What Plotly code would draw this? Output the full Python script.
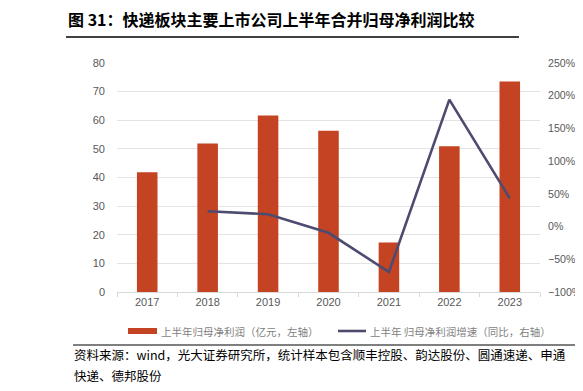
import plotly.graph_objects as go

years = ["2017", "2018", "2019", "2020", "2021", "2022", "2023"]
profit = [41.8, 51.9, 61.7, 56.3, 17.3, 50.9, 73.5]          # 亿元
growth_years = ["2018", "2019", "2020", "2021", "2022", "2023"]
growth = [23.5, 18.8, -9.5, -69.5, 194, 43]                   # %

bar_name = "上半年归母净利润（亿元，左轴）"
line_name = "上半年 归母净利润增速（同比，右轴）"
title_text = "<b>图 31：快递板块主要上市公司上半年合并归母净利润比较</b>"
source_line1 = "资料来源：wind，光大证券研究所，统计样本包含顺丰控股、韵达股份、圆通速递、申通"
source_line2 = "快递、德邦股份"

BAR_C = "#C44322"
LINE_C = "#4D4C70"
FONT = "Noto Sans CJK SC"
TICK_FONT = "Liberation Sans"

# the page body adds an 8px margin, so the figure is drawn 8px smaller
O = 8
W, H = 583 - O, 391 - O
PL, PR, PT, PB = 117, 540, 63, 292          # plot area in window pixels
l, r, t, b = PL - O, 583 - PR, PT - O, 391 - PB
pw, ph = W - l - r, H - t - b

def px(x):
    return (x - O - l) / pw

def py(y):
    return (H - b - (y - O)) / ph

fig = go.Figure()
fig.add_trace(go.Bar(x=years, y=profit, name=bar_name, marker_color=BAR_C,
                     marker_line_width=0, yaxis="y"))
fig.add_trace(go.Scatter(x=growth_years, y=growth, mode="lines", name=line_name,
                         line=dict(color=LINE_C, width=2.6), yaxis="y2"))

tickfont = dict(family=TICK_FONT, size=11, color="#595959")
fig.update_layout(
    width=W, height=H,
    margin=dict(l=l, r=r, t=t, b=b, autoexpand=False),
    paper_bgcolor="white", plot_bgcolor="white",
    font=dict(family=FONT, size=11, color="#595959"),
    bargap=0.66,
    showlegend=False,
    xaxis=dict(type="category", categoryorder="array", categoryarray=years,
               showline=True, linecolor="#D9D9D9", linewidth=1,
               ticks="outside", tickson="boundaries", ticklen=4, tickcolor="#D9D9D9",
               showgrid=False, tickfont=tickfont, automargin=False),
    yaxis=dict(range=[0, 80], dtick=10, showgrid=True, gridcolor="#E3E3E3",
               gridwidth=1, zeroline=False, showline=False, ticks="",
               ticklabelstandoff=11, tickfont=tickfont, automargin=False),
    yaxis2=dict(range=[-100, 250], dtick=50, ticksuffix="%", overlaying="y",
                side="right", showgrid=False, zeroline=False, showline=False,
                ticks="", ticklabelstandoff=7,
                tickfont=dict(family=TICK_FONT, size=10.6, color="#595959"),
                automargin=False),
)

annotations = [
    dict(text=title_text, x=px(66), y=py(19), xref="paper", yref="paper",
         showarrow=False, font=dict(size=16, color="#000000", family=FONT),
         xanchor="left", yanchor="middle"),
    dict(text=source_line1, x=px(72), y=py(355), xref="paper", yref="paper",
         showarrow=False, align="left",
         font=dict(size=12.5, color="#000000", family=FONT),
         xanchor="left", yanchor="middle"),
    dict(text=source_line2, x=px(72), y=py(375), xref="paper", yref="paper",
         showarrow=False, align="left",
         font=dict(size=12.5, color="#000000", family=FONT),
         xanchor="left", yanchor="middle"),
    dict(text=bar_name, x=px(159), y=py(331), xref="paper", yref="paper",
         showarrow=False, font=dict(size=10.5, color="#7F7F7F", family=FONT),
         xanchor="left", yanchor="middle"),
    dict(text=line_name, x=px(368), y=py(331), xref="paper", yref="paper",
         showarrow=False, font=dict(size=10.5, color="#7F7F7F", family=FONT),
         xanchor="left", yanchor="middle"),
]
shapes = [
    dict(type="line", xref="paper", yref="paper", x0=px(66), x1=px(519),
         y0=py(37), y1=py(37), line=dict(color="#000000", width=1.5)),
    dict(type="line", xref="paper", yref="paper", x0=px(73), x1=px(583),
         y0=py(345), y1=py(345), line=dict(color="#000000", width=1.2)),
    # legend symbols
    dict(type="rect", xref="paper", yref="paper", x0=px(128), x1=px(157),
         y0=py(334), y1=py(328), fillcolor=BAR_C, line=dict(width=0)),
    dict(type="line", xref="paper", yref="paper", x0=px(338), x1=px(366),
         y0=py(331), y1=py(331), line=dict(color=LINE_C, width=2.6)),
]
fig.update_layout(annotations=annotations, shapes=shapes)

fig.write_html("out.html")
